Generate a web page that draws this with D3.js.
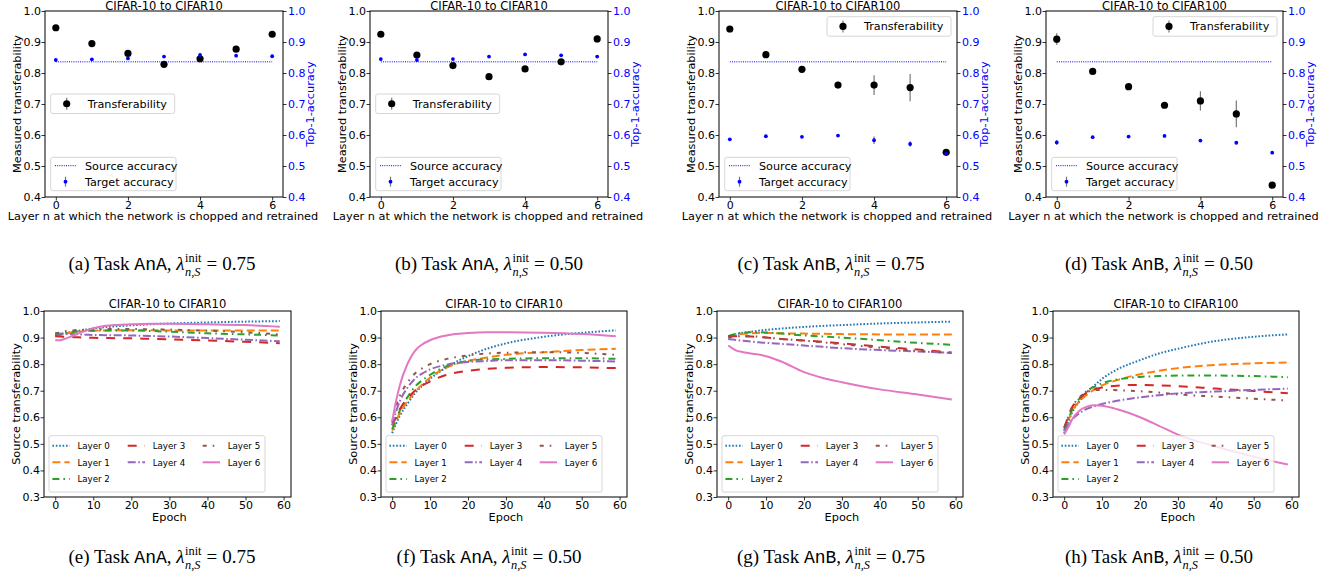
<!DOCTYPE html>
<html>
<head>
<meta charset="utf-8">
<script src="https://cdn.jsdelivr.net/npm/d3@7"></script>
<style>
  body { margin: 0; background: #fff; }
  svg { display: block; }
</style>
</head>
<body>
<svg id="fig" width="1336" height="581"></svg>
<script>
/* transferability figure — 4 layer plots on top, 4 epoch plots below */

// ---------- top row: layer n at which the net is chopped ----------
const layers = [0, 1, 2, 3, 4, 5, 6];
const sourceAcc = 0.836;

const transAnA075     = [0.946, 0.895, 0.863, 0.828, 0.846, 0.877, 0.925];
const transErrAnA075  = [0.004, 0.004, 0.005, 0.005, 0.006, 0.005, 0.004];
const targetAnA075    = [0.842, 0.844, 0.847, 0.853, 0.858, 0.856, 0.854];
const targetErrAnA075 = [0.002, 0.002, 0.003, 0.003, 0.004, 0.003, 0.002];

const transAnA050     = [0.925, 0.858, 0.824, 0.788, 0.813, 0.836, 0.910];
const transErrAnA050  = [0.004, 0.005, 0.005, 0.005, 0.005, 0.005, 0.004];
const targetAnA050    = [0.845, 0.842, 0.845, 0.853, 0.860, 0.857, 0.853];
const targetErrAnA050 = [0.002, 0.002, 0.002, 0.003, 0.003, 0.003, 0.002];

const transAnB075     = [0.942, 0.859, 0.812, 0.761, 0.761, 0.753, 0.544];
const transErrAnB075  = [0.004, 0.004, 0.005, 0.005, 0.032, 0.044, 0.004];
const targetAnB075    = [0.586, 0.596, 0.594, 0.598, 0.583, 0.571, 0.540];
const targetErrAnB075 = [0.003, 0.002, 0.002, 0.002, 0.012, 0.009, 0.003];

const transAnB050     = [0.909, 0.805, 0.756, 0.696, 0.710, 0.668, 0.438];
const transErrAnB050  = [0.019, 0.004, 0.004, 0.005, 0.031, 0.043, 0.004];
const targetAnB050    = [0.576, 0.593, 0.595, 0.597, 0.582, 0.575, 0.543];
const targetErrAnB050 = [0.008, 0.003, 0.002, 0.002, 0.004, 0.004, 0.003];

// ---------- bottom row: source transferability per epoch ----------
const epochs = [0, 1, 2, 4, 6, 8, 10, 14, 20, 25, 30, 40, 50, 59];
const layerNames = ['Layer 0', 'Layer 1', 'Layer 2', 'Layer 3', 'Layer 4', 'Layer 5', 'Layer 6'];

const curvesAnA075 = [
  [0.910, 0.912, 0.915, 0.920, 0.925, 0.930, 0.934, 0.940, 0.946, 0.950, 0.953, 0.957, 0.960, 0.962],
  [0.905, 0.908, 0.912, 0.918, 0.922, 0.925, 0.926, 0.927, 0.928, 0.928, 0.927, 0.927, 0.927, 0.927],
  [0.910, 0.912, 0.915, 0.920, 0.923, 0.925, 0.926, 0.927, 0.927, 0.925, 0.922, 0.916, 0.912, 0.908],
  [0.905, 0.904, 0.903, 0.902, 0.901, 0.900, 0.899, 0.898, 0.897, 0.895, 0.893, 0.889, 0.884, 0.879],
  [0.915, 0.915, 0.914, 0.913, 0.912, 0.911, 0.910, 0.909, 0.908, 0.906, 0.904, 0.898, 0.892, 0.886],
  [0.915, 0.918, 0.922, 0.926, 0.929, 0.930, 0.931, 0.932, 0.932, 0.931, 0.930, 0.926, 0.920, 0.912],
  [0.890, 0.890, 0.893, 0.903, 0.915, 0.926, 0.935, 0.945, 0.950, 0.952, 0.952, 0.950, 0.947, 0.941]
];
const curvesAnA050 = [
  [0.540, 0.575, 0.605, 0.650, 0.690, 0.720, 0.745, 0.785, 0.830, 0.858, 0.878, 0.903, 0.918, 0.927],
  [0.550, 0.585, 0.615, 0.660, 0.695, 0.725, 0.750, 0.785, 0.812, 0.825, 0.835, 0.845, 0.853, 0.858],
  [0.555, 0.590, 0.625, 0.675, 0.715, 0.740, 0.760, 0.790, 0.812, 0.818, 0.820, 0.822, 0.822, 0.820],
  [0.570, 0.600, 0.630, 0.670, 0.700, 0.720, 0.735, 0.758, 0.775, 0.782, 0.786, 0.789, 0.788, 0.785],
  [0.570, 0.620, 0.660, 0.710, 0.745, 0.765, 0.780, 0.797, 0.808, 0.812, 0.815, 0.815, 0.813, 0.810],
  [0.580, 0.640, 0.680, 0.730, 0.765, 0.785, 0.800, 0.818, 0.833, 0.840, 0.843, 0.845, 0.842, 0.835],
  [0.585, 0.660, 0.720, 0.800, 0.850, 0.875, 0.890, 0.907, 0.917, 0.920, 0.920, 0.918, 0.913, 0.905]
];
const curvesAnB075 = [
  [0.905, 0.910, 0.913, 0.918, 0.922, 0.926, 0.929, 0.934, 0.940, 0.944, 0.947, 0.953, 0.957, 0.960],
  [0.905, 0.908, 0.911, 0.914, 0.916, 0.917, 0.917, 0.916, 0.915, 0.914, 0.913, 0.912, 0.912, 0.912],
  [0.905, 0.910, 0.914, 0.918, 0.920, 0.920, 0.919, 0.915, 0.908, 0.904, 0.900, 0.890, 0.880, 0.873],
  [0.905, 0.905, 0.905, 0.905, 0.904, 0.902, 0.900, 0.895, 0.889, 0.884, 0.878, 0.866, 0.855, 0.844],
  [0.895, 0.893, 0.891, 0.888, 0.885, 0.882, 0.880, 0.876, 0.870, 0.865, 0.860, 0.853, 0.848, 0.842],
  [0.900, 0.902, 0.904, 0.905, 0.905, 0.903, 0.900, 0.895, 0.888, 0.882, 0.875, 0.862, 0.850, 0.842],
  [0.870, 0.860, 0.852, 0.845, 0.840, 0.836, 0.830, 0.810, 0.770, 0.748, 0.732, 0.705, 0.686, 0.667]
];
const curvesAnB050 = [
  [0.540, 0.580, 0.615, 0.660, 0.695, 0.720, 0.745, 0.780, 0.815, 0.840, 0.858, 0.887, 0.903, 0.912],
  [0.550, 0.585, 0.620, 0.660, 0.685, 0.705, 0.720, 0.740, 0.762, 0.775, 0.785, 0.797, 0.803, 0.806],
  [0.550, 0.590, 0.625, 0.670, 0.700, 0.715, 0.728, 0.742, 0.752, 0.755, 0.757, 0.757, 0.755, 0.751],
  [0.560, 0.600, 0.635, 0.670, 0.693, 0.705, 0.712, 0.719, 0.722, 0.720, 0.717, 0.708, 0.699, 0.690],
  [0.550, 0.570, 0.590, 0.615, 0.632, 0.642, 0.650, 0.662, 0.675, 0.683, 0.690, 0.697, 0.703, 0.708],
  [0.560, 0.600, 0.635, 0.675, 0.695, 0.702, 0.703, 0.702, 0.698, 0.693, 0.686, 0.678, 0.670, 0.663],
  [0.535, 0.560, 0.590, 0.625, 0.640, 0.645, 0.643, 0.630, 0.600, 0.568, 0.535, 0.490, 0.452, 0.422]
];

// ---------- text ----------
const titles   = ['CIFAR-10 to CIFAR10', 'CIFAR-10 to CIFAR10', 'CIFAR-10 to CIFAR100', 'CIFAR-10 to CIFAR100'];
const tasks    = ['AnA', 'AnA', 'AnB', 'AnB'];
const lambdas  = ['0.75', '0.50', '0.75', '0.50'];
const lettersTop = ['a', 'b', 'c', 'd'];
const lettersBot = ['e', 'f', 'g', 'h'];
const topTicksX = [0, 2, 4, 6];
const botTicksX = [0, 10, 20, 30, 40, 50, 60];

/* ==================== layout / style ==================== */
const FONT = '"DejaVu Sans", sans-serif';
const FS_TICK = 11, FS_LABEL = 11.3, FS_TITLE = 11.5, FS_LEG_TOP = 11.2, FS_LEG_BOT = 8.7;
const CAP_FS = 19;
const BLUE = '#0000ff';
const TICK = 3.5, PAD = 0.5;

const TOP_Y = [11, 197];
const BOT_Y = [311, 497];
const TOP_X = [[45, 283], [370, 608], [719, 957], [1046, 1283]];
const BOT_X = [[44, 291], [381, 627], [717, 963], [1053, 1299]];
const CAP_CX = [162, 489, 831, 1159];
const CAP_Y = [270, 563];

const LINE_STYLES = [
  { color: '#1f77b4', dash: '1.6,1.8' },
  { color: '#ff7f0e', dash: '8,4' },
  { color: '#2ca02c', dash: '7,4,1.6,4' },
  { color: '#d62728', dash: '9,8' },
  { color: '#9467bd', dash: '8,2.5,1.6,2.5' },
  { color: '#8c564b', dash: '4,6,1.6,6' },
  { color: '#e377c2', dash: null }
];

const svg = d3.select('#fig');

function styleAxis(ax, fs, color) {
  ax.attr('font-size', fs).attr('font-family', FONT);
  ax.select('.domain').remove();
  ax.selectAll('line').attr('stroke', '#000').attr('stroke-width', 0.8);
  ax.selectAll('text').attr('fill', color || '#000');
}

function frame(g, x0, x1, y0, y1) {
  g.append('rect').attr('x', x0).attr('y', y0).attr('width', x1 - x0).attr('height', y1 - y0)
    .attr('fill', 'none').attr('stroke', '#000').attr('stroke-width', 1);
}

function legendBox(g, x, y, w, h) {
  g.append('rect').attr('x', x).attr('y', y).attr('width', w).attr('height', h).attr('rx', 2)
    .attr('fill', '#fff').attr('fill-opacity', 0.8).attr('stroke', '#cccccc').attr('stroke-width', 0.8);
}

/* ---------- top panels ---------- */
const topData = [
  { trans: transAnA075, transErr: transErrAnA075, target: targetAnA075, targetErr: targetErrAnA075, legRight: false },
  { trans: transAnA050, transErr: transErrAnA050, target: targetAnA050, targetErr: targetErrAnA050, legRight: false },
  { trans: transAnB075, transErr: transErrAnB075, target: targetAnB075, targetErr: targetErrAnB075, legRight: true },
  { trans: transAnB050, transErr: transErrAnB050, target: targetAnB050, targetErr: targetErrAnB050, legRight: true }
];

function drawTop(i) {
  const d = topData[i];
  const [x0, x1] = TOP_X[i], [y0, y1] = TOP_Y;
  const g = svg.append('g');
  const x = d3.scaleLinear().domain([-0.3, 6.3]).range([x0, x1]);
  const y = d3.scaleLinear().domain([0.4, 1.0]).range([y1, y0]);
  const yTicks = d3.range(4, 11).map(v => v / 10);

  const axL = g.append('g').attr('transform', `translate(${x0},0)`)
    .call(d3.axisLeft(y).tickValues(yTicks).tickFormat(d3.format('.1f')).tickSize(TICK).tickPadding(PAD));
  styleAxis(axL, FS_TICK);
  const axR = g.append('g').attr('transform', `translate(${x1},0)`)
    .call(d3.axisRight(y).tickValues(yTicks).tickFormat(d3.format('.1f')).tickSize(TICK).tickPadding(PAD + 1));
  styleAxis(axR, FS_TICK, BLUE);
  const axB = g.append('g').attr('transform', `translate(0,${y1})`)
    .call(d3.axisBottom(x).tickValues(topTicksX).tickFormat(d3.format('d')).tickSize(TICK).tickPadding(PAD));
  styleAxis(axB, FS_TICK);

  // transferability with error bars
  g.selectAll('.terr').data(layers).enter().append('line')
    .attr('x1', n => x(n)).attr('x2', n => x(n))
    .attr('y1', n => y(d.trans[n] - d.transErr[n])).attr('y2', n => y(d.trans[n] + d.transErr[n]))
    .attr('stroke', '#777').attr('stroke-width', 1.2);
  g.selectAll('.tdot').data(layers).enter().append('circle')
    .attr('cx', n => x(n)).attr('cy', n => y(d.trans[n])).attr('r', 3.6).attr('fill', '#000');

  // source accuracy
  g.append('line').attr('x1', x(0)).attr('x2', x(6)).attr('y1', y(sourceAcc)).attr('y2', y(sourceAcc))
    .attr('stroke', BLUE).attr('stroke-width', 1).attr('stroke-dasharray', '1,1.2');

  // target accuracy
  g.selectAll('.gerr').data(layers).enter().append('line')
    .attr('x1', n => x(n)).attr('x2', n => x(n))
    .attr('y1', n => y(d.target[n] - d.targetErr[n])).attr('y2', n => y(d.target[n] + d.targetErr[n]))
    .attr('stroke', '#777').attr('stroke-width', 1.2);
  g.selectAll('.gdot').data(layers).enter().append('circle')
    .attr('cx', n => x(n)).attr('cy', n => y(d.target[n])).attr('r', 1.9).attr('fill', BLUE);

  frame(g, x0, x1, y0, y1);

  // legend: transferability
  const tw = 124, th = 19.5;
  const tx = d.legRight ? x1 - 6 - tw : x0 + 5.7;
  const ty = d.legRight ? y0 + 5.7 : y0 + 83;
  legendBox(g, tx, ty, tw, th);
  g.append('line').attr('x1', tx + 16).attr('x2', tx + 16).attr('y1', ty + th / 2 - 6).attr('y2', ty + th / 2 + 6)
    .attr('stroke', '#777').attr('stroke-width', 1.2);
  g.append('circle').attr('cx', tx + 16).attr('cy', ty + th / 2).attr('r', 3.6).attr('fill', '#000');
  g.append('text').attr('x', tx + 37).attr('y', ty + th / 2 + 4).attr('font-family', FONT)
    .attr('font-size', FS_LEG_TOP).text('Transferability');

  // legend: source / target
  const sw = 125.3, sh = 33.4;
  const sx = x0 + 5.7, sy = y1 - 6.3 - sh;
  legendBox(g, sx, sy, sw, sh);
  g.append('line').attr('x1', sx + 4.3).attr('x2', sx + 25.3).attr('y1', sy + 8.4).attr('y2', sy + 8.4)
    .attr('stroke', BLUE).attr('stroke-width', 1).attr('stroke-dasharray', '1,1.2');
  g.append('text').attr('x', sx + 34.3).attr('y', sy + 8.4 + 4).attr('font-family', FONT)
    .attr('font-size', FS_LEG_TOP).text('Source accuracy');
  g.append('line').attr('x1', sx + 14.8).attr('x2', sx + 14.8).attr('y1', sy + 24.4 - 5).attr('y2', sy + 24.4 + 5)
    .attr('stroke', '#777').attr('stroke-width', 1.2);
  g.append('circle').attr('cx', sx + 14.8).attr('cy', sy + 24.4).attr('r', 1.9).attr('fill', BLUE);
  g.append('text').attr('x', sx + 34.3).attr('y', sy + 24.4 + 4).attr('font-family', FONT)
    .attr('font-size', FS_LEG_TOP).text('Target accuracy');

  // labels (title sits right at the page edge, as in the source figure)
  g.append('text').attr('x', (x0 + x1) / 2).attr('y', 9.5).attr('text-anchor', 'middle')
    .attr('font-family', FONT).attr('font-size', FS_TITLE).text(titles[i]);
  g.append('text').attr('x', (x0 + x1) / 2 - 1).attr('y', 219.5).attr('text-anchor', 'middle')
    .attr('font-family', FONT).attr('font-size', FS_LABEL).text('Layer n at which the network is chopped and retrained');
  g.append('text').attr('transform', `translate(${x0 - 24},${(y0 + y1) / 2}) rotate(-90)`)
    .attr('text-anchor', 'middle').attr('font-family', FONT).attr('font-size', FS_LABEL).text('Measured transferability');
  g.append('text').attr('transform', `translate(${x1 + 31},${(y0 + y1) / 2}) rotate(-90)`)
    .attr('text-anchor', 'middle').attr('font-family', FONT).attr('font-size', FS_LABEL)
    .attr('fill', BLUE).text('Top-1-accuracy');
}

/* ---------- bottom panels ---------- */
const botData = [curvesAnA075, curvesAnA050, curvesAnB075, curvesAnB050];

function drawBottom(i) {
  const curves = botData[i];
  const [x0, x1] = BOT_X[i], [y0, y1] = BOT_Y;
  const g = svg.append('g');
  const x = d3.scaleLinear().domain([-2.95, 61.95]).range([x0, x1]);
  const y = d3.scaleLinear().domain([0.3, 1.0]).range([y1, y0]);

  const axL = g.append('g').attr('transform', `translate(${x0},0)`)
    .call(d3.axisLeft(y).tickValues(d3.range(3, 11).map(v => v / 10)).tickFormat(d3.format('.1f')).tickSize(TICK).tickPadding(PAD));
  styleAxis(axL, FS_TICK);
  const axB = g.append('g').attr('transform', `translate(0,${y1})`)
    .call(d3.axisBottom(x).tickValues(botTicksX).tickFormat(d3.format('d')).tickSize(TICK).tickPadding(PAD));
  styleAxis(axB, FS_TICK);

  const line = d3.line().x((v, k) => x(epochs[k])).y(v => y(v)).curve(d3.curveMonotoneX);
  curves.forEach((vals, k) => {
    const st = LINE_STYLES[k];
    g.append('path').attr('d', line(vals)).attr('fill', 'none')
      .attr('stroke', st.color).attr('stroke-width', 2)
      .attr('stroke-dasharray', st.dash);
  });

  frame(g, x0, x1, y0, y1);

  // legend, 3 columns filled column-first
  const lw = 216, lh = 56.3;
  const lx = x0 + 5, ly = y1 - 5 - lh;
  legendBox(g, lx, ly, lw, lh);
  const colX = [3.4, 78.7, 153.7], rowY = [10, 26.6, 43.3];
  const slots = [[0, 0], [0, 1], [0, 2], [1, 0], [1, 1], [2, 0], [2, 1]];
  layerNames.forEach((name, k) => {
    const [c, r] = slots[k];
    const st = LINE_STYLES[k];
    const yy = ly + rowY[r];
    g.append('line').attr('x1', lx + colX[c]).attr('x2', lx + colX[c] + 17.3).attr('y1', yy).attr('y2', yy)
      .attr('stroke', st.color).attr('stroke-width', 2).attr('stroke-dasharray', st.dash);
    g.append('text').attr('x', lx + colX[c] + 25).attr('y', yy + 3.2).attr('font-family', FONT)
      .attr('font-size', FS_LEG_BOT).text(name);
  });

  g.append('text').attr('x', (x0 + x1) / 2).attr('y', 307.5).attr('text-anchor', 'middle')
    .attr('font-family', FONT).attr('font-size', FS_TITLE).text(titles[i]);
  g.append('text').attr('x', x(30)).attr('y', 521).attr('text-anchor', 'middle')
    .attr('font-family', FONT).attr('font-size', FS_LABEL).text('Epoch');
  g.append('text').attr('transform', `translate(${x0 - 24},${(y0 + y1) / 2}) rotate(-90)`)
    .attr('text-anchor', 'middle').attr('font-family', FONT).attr('font-size', FS_LABEL).text('Source transferability');
}

/* ---------- captions: (a) Task AnA, λ^init_{n,S} = 0.75 ---------- */
function caption(cx, baseY, letter, task, lam) {
  const g = svg.append('g');
  let cur = 0;
  function put(str, o) {
    const t = g.append('text').attr('x', cur).attr('y', baseY + (o.dy || 0))
      .attr('font-family', o.mono ? '"Liberation Mono", monospace' : '"Liberation Serif", serif')
      .attr('font-size', o.size || CAP_FS)
      .attr('font-style', o.italic ? 'italic' : 'normal')
      .style('white-space', 'pre')
      .text(str);
    return t.node().getComputedTextLength();
  }
  cur += put(`(${letter}) Task `, {});
  cur += put(task, { mono: true, size: CAP_FS * 0.95 });
  cur += put(', ', {});
  cur += put('λ', { italic: true });
  cur += 0.5;
  const w1 = put('init', { size: CAP_FS * 0.65, dy: -8.5 });
  const w2 = put('n,S', { size: CAP_FS * 0.65, dy: 5.5, italic: true });
  cur += Math.max(w1, w2) + 5;
  cur += put('=', {}) + 5;
  cur += put(lam, {});
  g.attr('transform', `translate(${cx - cur / 2},0)`);
}

for (let i = 0; i < 4; i++) {
  drawTop(i);
  drawBottom(i);
  caption(CAP_CX[i], CAP_Y[0], lettersTop[i], tasks[i], lambdas[i]);
  caption(CAP_CX[i], CAP_Y[1], lettersBot[i], tasks[i], lambdas[i]);
}
</script>
</body>
</html>
